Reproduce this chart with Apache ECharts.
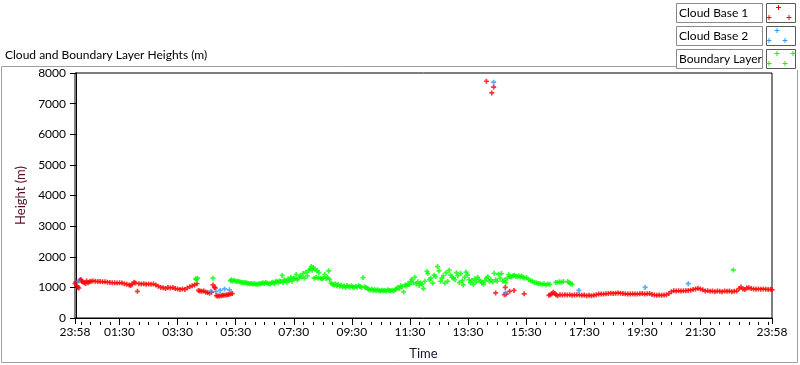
<!DOCTYPE html>
<html>
<head>
<meta charset="utf-8">
<script src="https://cdn.jsdelivr.net/npm/echarts@6/dist/echarts.min.js"></script>
<style>
html,body{margin:0;padding:0;background:#fff;}
#chart{width:800px;height:365px;}
</style>
</head>
<body>
<div id="chart"></div>
<script>
// Time in minutes after midnight (-2 = 23:58 of previous day, 1438 = 23:58)
var xMin = -2, xMax = 1438;
var majorTicks = [-2, 90, 210, 330, 450, 570, 690, 810, 930, 1050, 1170, 1290, 1438];
var minorFirst = 10, minorLast = 1430, minorStep = 20;
var yTicks = [0, 1000, 2000, 3000, 4000, 5000, 6000, 7000, 8000];
var seriesNames = ['Cloud Base 1', 'Cloud Base 2', 'Boundary Layer'];

var cloudBase1 = [
[-2,1120],[0,1180],[2,1050],[4,1000],[6,980],[8,1230],[10,1260],[12,1200],[14,1180],[17,1150],[20,1130],[22,1210],[25,1150],[28,1180],[31,1200],[35,1210],[40,1200],[45,1190],[50,1190],[55,1180],[60,1180],[65,1170],[70,1160],[75,1150],[80,1150],[85,1140],[90,1150],[95,1140],[100,1120],[105,1100],[110,1080],[113,1060],[116,1100],[120,1170],[123,1140],[127,870],[130,1120],[135,1110],[140,1120],[145,1100],[150,1110],[155,1100],[160,1110],[165,1080],[170,1040],[175,1000],[180,990],[185,960],[190,1000],[195,980],[200,1000],[205,960],[210,950],[215,930],[220,950],[225,930],[230,980],[235,1020],[240,1050],[245,1080],[250,1120],
[253,900],[256,880],[260,870],[264,880],[268,850],[272,830],[276,810],[280,840],[283,1080],[286,1000],[288,980],
[290,730],[293,720],[296,720],[300,730],[303,740],[306,740],[310,750],[313,760],[316,770],[320,790],[323,800],
[848,7730],[859,7350],[863,7540],
[867,820],[885,760],[887,1000],[889,780],[896,870],[905,900],[926,790],
[977,740],[980,760],[983,790],[986,840],[989,800],[992,760],[995,730],[1000,760],[1005,750],[1010,760],[1015,750],[1020,760],[1025,740],[1030,750],[1035,760],[1040,750],[1045,740],[1050,750],[1055,730],[1060,740],[1065,730],[1070,740],[1075,760],[1080,780],[1085,780],[1090,780],[1095,790],[1100,800],[1105,810],[1110,800],[1115,810],[1120,820],[1125,810],[1130,800],[1135,790],[1140,780],[1145,780],[1150,790],[1155,780],[1160,780],[1165,790],[1170,800],[1175,780],[1180,790],[1185,800],[1190,770],[1195,750],[1200,740],[1205,750],[1210,740],[1215,750],[1220,760],[1225,800],[1230,860],[1235,890],[1240,880],[1245,890],[1250,880],[1255,890],[1260,890],[1265,900],[1270,910],[1275,930],[1280,950],[1285,970],[1290,950],[1295,920],[1300,880],[1305,890],[1310,870],[1315,880],[1320,860],[1325,880],[1330,870],[1335,860],[1340,880],[1345,870],[1350,880],[1355,860],[1360,870],[1365,880],[1370,960],[1374,1010],[1378,950],[1382,930],[1386,980],[1390,990],[1395,960],[1400,950],[1405,940],[1410,950],[1415,940],[1420,950],[1425,940],[1430,930],[1435,940],[1438,920]
];

var cloudBase2 = [
[5,1200],[279,870],[289,860],[298,900],[307,950],[317,920],
[863,7700],[887,820],[1039,900],[1176,1000],[1265,1120]
];

var boundaryLayer = [
[247,1280],[249,1250],[251,1300],[283,1300],
[319,1220],[321,1250],[323,1200],[326,1230],[329,1210],[332,1190],[335,1200],[338,1180],[341,1170],[344,1160],[347,1150],[350,1160],[353,1140],[356,1130],[359,1120],[362,1130],[365,1110],[368,1120],[371,1110],[374,1100],[377,1110],[380,1120],
[383,1130],[386,1150],[389,1130],[392,1160],[395,1140],[398,1120],[401,1110],[404,1150],[407,1170],[410,1120],[412,1180],[415,1200],[418,1150],[420,1210],[423,1190],[426,1390],[428,1160],[430,1250],[433,1220],[436,1170],[438,1270],[441,1230],[444,1330],[446,1200],[449,1300],[452,1280],[455,1420],[457,1250],
[460,1300],[463,1380],[466,1340],[469,1450],[472,1300],[475,1500],[478,1380],[481,1550],[484,1600],[486,1680],[488,1560],[490,1650],[492,1300],[494,1600],[496,1320],[498,1540],[500,1310],[502,1480],[505,1300],[508,1280],[511,1300],[514,1420],[517,1290],[520,1320],[522,1540],[524,1260],
[527,1140],[530,1100],[533,1080],[536,1120],[539,1050],[542,1090],[545,1040],
[548,1070],[551,1020],[554,1050],[557,1000],[560,1060],[563,1030],[566,1010],[569,1050],[572,1020],[575,1000],[578,1040],[581,1010],[584,1050],[587,1030],[590,1000],[593,1320],[596,1020],[599,1000],
[602,960],[605,940],[608,910],[611,950],[614,900],[617,930],[620,890],[623,920],[626,900],[629,880],[632,910],[635,890],[638,900],[641,880],[644,920],[647,900],[650,890],[653,910],[656,880],[659,920],[662,950],
[665,1000],[668,960],[671,1050],[674,1020],[677,850],[680,1080],[683,1040],[686,1120],[689,1100],[692,1200],[694,1260],[697,1150],[700,1330],[703,1110],[706,1180],[709,1060],[712,1140],[715,1100],[718,960],
[721,1200],[725,1520],[727,1450],[730,1250],[733,1300],[737,1140],[740,1400],[743,1350],[747,1680],[750,1540],[753,1200],[756,1300],[759,1380],[762,1140],[765,1480],[768,1200],[771,1560],[774,1400],[777,1330],
[780,1300],[783,1250],[786,1480],[789,1380],[792,1150],[795,1450],[798,1220],[800,1080],[803,1330],[806,1500],[809,1400],[812,1250],[815,1150],
[818,1230],[821,1100],[824,1280],[827,1180],[830,1330],[833,1250],[836,1200],[839,1150],[842,1100],[845,1220],[848,1300],[851,1350],[854,1200],[857,1250],
[861,1180],[864,1460],[867,1250],[870,1200],[873,1430],[876,1300],[879,1450],[882,1200],[885,1240],[888,1150],[891,1300],[894,1420],[897,1350],
[900,1340],[903,1380],[906,1400],[909,1360],[912,1350],[915,1380],[918,1340],[921,1360],[924,1330],
[927,1300],[931,1320],[935,1260],[939,1220],[943,1200],[947,1160],[951,1150],[955,1130],[959,1120],[963,1100],[967,1120],[971,1080],[975,1110],[979,1100],
[991,1160],[995,1170],[999,1180],[1003,1170],[1007,1190],[1016,1190],[1019,1160],[1022,1120],[1025,1100],
[1358,1570]
];

var colors = ['#ff0000', '#3399ff', '#00ff00'];
var plusPath = 'path://M2,0H4V2H6V4H4V6H2V4H0V2H2Z';
var FONT = 'Lato, "Noto Sans", sans-serif';

var W = 800, H = 365;
var GRID = {left: 75, right: 28, top: 73, bottom: 43};
var plotW = W - GRID.left - GRID.right;
// helper grid spanning exactly the minor-tick range, so that the library's own ticks land every 20 min
var minorLeft = GRID.left + (minorFirst - xMin) / (xMax - xMin) * plotW;
var minorRight = W - (GRID.left + (minorLast - xMin) / (xMax - xMin) * plotW);

function fmtTime(v) {
  var m = ((Math.round(v) % 1440) + 1440) % 1440;
  var h = Math.floor(m / 60), mm = m % 60;
  return (h < 10 ? '0' : '') + h + ':' + (mm < 10 ? '0' : '') + mm;
}

// legend graphic
var legendGraphics = [];
var legendMarks = [
  [[12, 4.5], [2.5, 14.5], [22.5, 14.5]],
  [[10.5, 4.5], [2.5, 14.5], [18.5, 14.5]],
  [[10.5, 4.5], [26.5, 4.5], [2.5, 14.5], [18.5, 14.5]]
];
seriesNames.forEach(function (name, i) {
  var top = 3 + i * 23;
  legendGraphics.push({
    type: 'rect', shape: {x: 676.5, y: top + 0.5, width: 86, height: 19},
    style: {fill: '#fff', stroke: '#8a8a8a', lineWidth: 1}, z: 10
  });
  legendGraphics.push({
    type: 'text', x: 679, y: top + 10,
    style: {text: name, font: '12px ' + FONT, fill: '#000', textVerticalAlign: 'middle'}, z: 11
  });
  legendGraphics.push({
    type: 'rect', shape: {x: 766.5, y: top + 0.5, width: 29, height: 19},
    style: {fill: '#fff', stroke: '#5a5a5a', lineWidth: 1}, z: 10
  });
  legendMarks[i].forEach(function (p) {
    var cx = 766 + p[0], cy = top + p[1];
    legendGraphics.push({
      type: 'polyline', shape: {points: [[cx - 2, cy], [cx + 3, cy]]},
      style: {stroke: colors[i], lineWidth: 1}, z: 11
    });
    legendGraphics.push({
      type: 'polyline', shape: {points: [[cx + 0.5, cy - 2.5], [cx + 0.5, cy + 2.5]]},
      style: {stroke: colors[i], lineWidth: 1}, z: 11
    });
  });
});

var baseGraphics = [
  {
    type: 'polyline', shape: {points: [[676, 66.5], [1.5, 66.5], [1.5, 362.5], [797.5, 362.5], [797.5, 70]]},
    style: {stroke: '#a0a0a0', lineWidth: 1, fill: null}, z: 0
  },
  {
    type: 'text', x: 5, y: 55,
    style: {text: 'Cloud and Boundary Layer Heights (m)', font: '12px ' + FONT, fill: '#000', textVerticalAlign: 'middle'}, z: 5
  }
].concat(legendGraphics);

var chart = echarts.init(document.getElementById('chart'), null, {renderer: 'canvas'});

var option = {
  animation: false,
  backgroundColor: '#fff',
  textStyle: {fontFamily: FONT},
  grid: [
    {left: GRID.left, right: GRID.right, top: GRID.top, bottom: GRID.bottom, show: true, borderColor: '#000', borderWidth: 1, backgroundColor: '#fff'},
    {left: minorLeft, right: minorRight, top: GRID.top, bottom: GRID.bottom, show: false}
  ],
  graphic: baseGraphics,
  xAxis: [
    {
      type: 'value', min: xMin, max: xMax, gridIndex: 0,
      name: 'Time', nameLocation: 'middle', nameGap: 29,
      nameTextStyle: {color: '#1a1030', fontSize: 13, fontFamily: FONT},
      axisLine: {show: true, onZero: false, lineStyle: {color: '#000', width: 1}},
      axisTick: {show: true, customValues: majorTicks, length: 6, lineStyle: {color: '#000'}},
      axisLabel: {customValues: majorTicks, formatter: fmtTime, color: '#000', fontSize: 12, fontFamily: FONT, margin: 8,
        showMinLabel: true, showMaxLabel: true},
      splitLine: {show: false}
    },
    {
      type: 'value', min: minorFirst, max: minorLast, interval: minorStep, gridIndex: 1, position: 'bottom',
      axisLine: {show: false, onZero: false},
      axisTick: {show: true, length: 3, lineStyle: {color: '#000'}},
      axisLabel: {show: false},
      splitLine: {show: false}
    }
  ],
  yAxis: [
    {
      type: 'value', min: 0, max: 8000, interval: 1000, gridIndex: 0,
      name: 'Height (m)', nameLocation: 'middle', nameGap: 42, nameRotate: 90,
      nameTextStyle: {color: '#5a1020', fontSize: 13, fontFamily: FONT},
      axisLine: {show: true, lineStyle: {color: '#000', width: 1}},
      axisTick: {show: true, length: 6, lineStyle: {color: '#000'}},
      axisLabel: {color: '#000', fontSize: 12, fontFamily: FONT, margin: 9, formatter: function (v) { return String(v); }},
      splitLine: {show: false}
    },
    {
      type: 'value', min: 0, max: 8000, gridIndex: 1, show: false
    }
  ],
  series: [
    {name: seriesNames[0], type: 'scatter', data: cloudBase1, symbol: plusPath, symbolSize: 5, itemStyle: {color: colors[0]}, z: 3},
    {name: seriesNames[1], type: 'scatter', data: cloudBase2, symbol: plusPath, symbolSize: 5, itemStyle: {color: colors[1]}, z: 4},
    {name: seriesNames[2], type: 'scatter', data: boundaryLayer, symbol: plusPath, symbolSize: 5, itemStyle: {color: colors[2]}, z: 5},
    {type: 'scatter', xAxisIndex: 1, yAxisIndex: 1, data: [], silent: true}
  ]
};
chart.setOption(option);
</script>
</body>
</html>
